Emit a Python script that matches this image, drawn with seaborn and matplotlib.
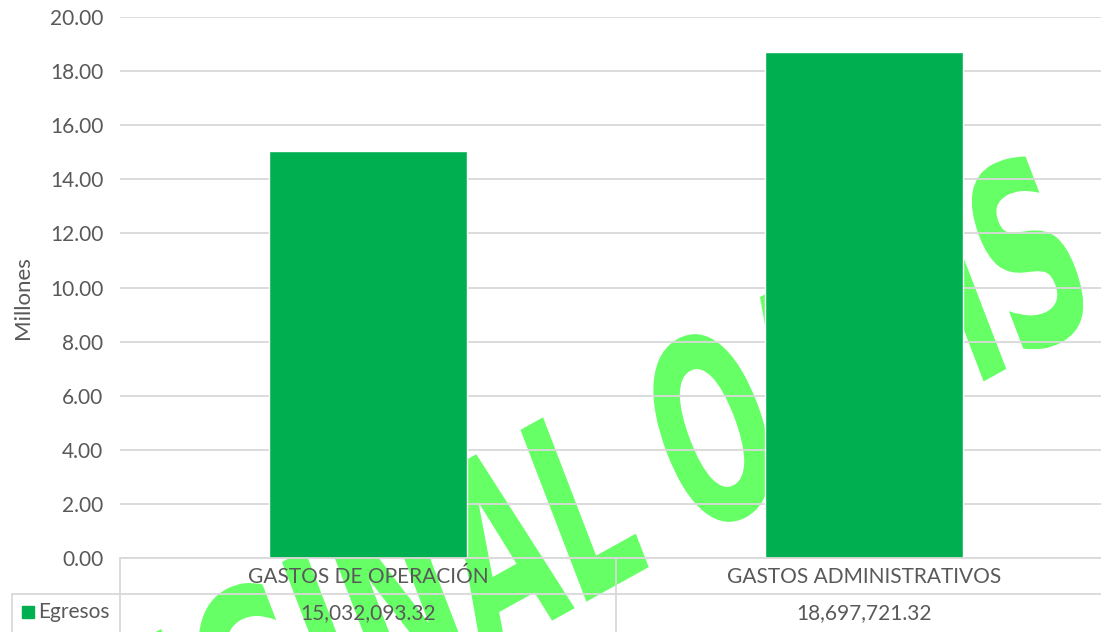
import numpy as np
import pandas as pd
import matplotlib
matplotlib.use("Agg")
import matplotlib.pyplot as plt
import seaborn as sns
from matplotlib.textpath import TextPath
from matplotlib.font_manager import FontProperties
from matplotlib.patches import PathPatch, Rectangle
from matplotlib.lines import Line2D
from matplotlib.transforms import Affine2D, blended_transform_factory
from matplotlib.ticker import FormatStrFormatter

# datos
categorias = ["GASTOS DE OPERACIÓN", "GASTOS ADMINISTRATIVOS"]
egresos = [15032093.32, 18697721.32]
serie = "Egresos"
etiqueta_y = "Millones"
marca_agua = "ORIGINAL OASIS"

VERDE = "#00B050"
GRIS_TXT = "#595959"
GRIS_LIN = "#D9D9D9"
FS = 15

sns.set_style("white")
plt.rcParams["font.family"] = ["Lato", "DejaVu Sans"]

W, H = 1101, 632
fig = plt.figure(figsize=(W / 100, H / 100), dpi=100)
fig.patch.set_facecolor("white")

# ejes en pixeles (x de 120 a 1112, y=0 en 558, y=20 en 17)
ax = fig.add_axes([120 / W, (H - 558) / H, 992 / W, 541 / H])
ax.set_facecolor("none")

df = pd.DataFrame({"cat": categorias, "val": np.array(egresos) / 1e6})
sns.barplot(data=df, x="cat", y="val", color=VERDE, saturation=1, width=0.4, ax=ax, zorder=2)

ax.set_xlim(-0.5, 1.5)
ax.set_ylim(0, 20)
ax.set_yticks(np.arange(0, 21, 2))
ax.yaxis.set_major_formatter(FormatStrFormatter("%.2f"))
ax.grid(axis="y", color=GRIS_LIN, lw=1.3)
ax.set_axisbelow(True)
ax.tick_params(axis="y", length=0, pad=12, labelsize=FS, labelcolor=GRIS_TXT)
ax.tick_params(axis="x", length=0)
ax.set_xticklabels([])
ax.set_xlabel("")
ax.set_ylabel(etiqueta_y, fontsize=FS + 1, color=GRIS_TXT)
ax.yaxis.set_label_coords(-0.088, 0.482)
for s in ["top", "right", "left"]:
    ax.spines[s].set_visible(False)
ax.spines["bottom"].set_color(GRIS_LIN)
ax.spines["bottom"].set_linewidth(1.3)

# tabla de datos
def fy(py):
    return (558 - py) / 541

def fx(px):
    return (px - 120) / 992

trans = blended_transform_factory(ax.transData, ax.transAxes)
for i, (c, v) in enumerate(zip(categorias, egresos)):
    ax.text(i, fy(577), c, transform=trans, ha="center", va="center",
            fontsize=FS, color=GRIS_TXT, clip_on=False)
    ax.text(i, fy(613), f"{v:,.2f}", transform=trans, ha="center", va="center",
            fontsize=FS, color=GRIS_TXT, clip_on=False)

lineas = [
    ([0, 0], [0, fy(640)]),
    ([0.5, 0.5], [0, fy(640)]),
    ([fx(12), 1], [fy(594), fy(594)]),
    ([fx(12), fx(12)], [fy(594), fy(640)]),
]
for xs, ys in lineas:
    ax.add_line(Line2D(xs, ys, transform=ax.transAxes, color=GRIS_LIN,
                       lw=1.3, clip_on=False))

ax.add_patch(Rectangle((fx(22), fy(618)), fx(34) - fx(22), fy(606) - fy(618),
                       transform=ax.transAxes, color=VERDE, clip_on=False))
ax.text(fx(38), fy(612), serie, transform=ax.transAxes, ha="left", va="center",
        fontsize=FS, color=GRIS_TXT, clip_on=False)

# marca de agua detras del grafico
fp = FontProperties(family="DejaVu Sans", weight="bold")
size = 250
tp = TextPath((0, 0), marca_agua, size=size, prop=fp)
ext_full = tp.get_extents()
ext_tail = TextPath((0, 0), marca_agua.split(" ")[-1], size=size, prop=fp).get_extents()
ext_o = TextPath((0, 0), "O", size=size, prop=fp).get_extents()
off = ext_full.x1 - ext_tail.x1
cx = off + (ext_o.x0 + ext_o.x1) / 2
cy = (ext_o.y0 + ext_o.y1) / 2
tr = (Affine2D().translate(-cx, -cy).scale(0.55, 1.0).skew_deg(8, 0).rotate_deg(29)
      .translate(712, H - 428).scale(1 / W, 1 / H) + fig.transFigure)
wm = PathPatch(tp, transform=tr, facecolor="#66FF66", edgecolor="none", zorder=-1)
fig.add_artist(wm)

fig.savefig("out.png", dpi=100, facecolor="white")
